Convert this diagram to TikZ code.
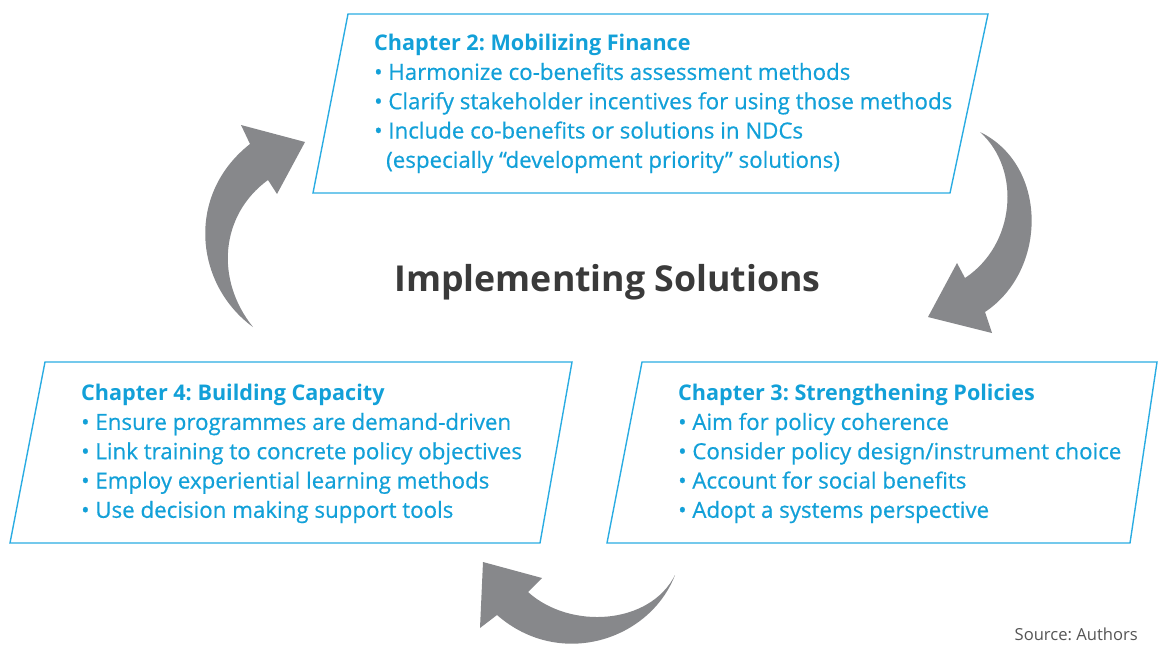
\documentclass[tikz,border=0pt]{standalone}
\usepackage{fontspec}
\setmainfont{Open Sans}
\newfontfamily\chapfont{Open Sans}[FakeBold=0.6, BoldFont={Open Sans Bold}, BoldFeatures={FakeBold=0}]
\definecolor{chapblue}{HTML}{12A0D8}
\definecolor{edgeblue}{HTML}{2AACE2}
\definecolor{arrowgray}{HTML}{87888B}
\definecolor{titlegray}{HTML}{3A3A3A}
\definecolor{notegray}{HTML}{555555}
\tikzset{
  chapbox/.style={draw=edgeblue, line width=1.4pt, line join=miter},
  chaptext/.style={anchor=north west, inner sep=0pt, align=left, text=chapblue,
    font=\chapfont\fontsize{22.3}{29.3}\selectfont},
  turnarrow/.style={fill=arrowgray, draw=none},
}
\newcommand{\chaphead}[1]{{\fontsize{21.6}{29.3}\selectfont\textbf{#1}}}
\frenchspacing
\begin{document}
\begin{tikzpicture}[x=1pt,y=-1pt]
\useasboundingbox (0,0) rectangle (1158,646);
\clip (0,0) rectangle (1158,646);

% chapter frames
\draw[chapbox] (348,14) -- (988,14) -- (950,193) -- (313,193) -- cycle;
\draw[chapbox] (45,362) -- (572,362) -- (540,543) -- (10,543) -- cycle;
\draw[chapbox] (642,362) -- (1157,362) -- (1130,543) -- (607,543) -- cycle;

% chapter contents
\node[chaptext] (finance) at (374,34) {\chaphead{Chapter 2: Mobilizing Finance}\\
  • Harmonize co-benefits assessment methods\\
  • Clarify stakeholder incentives for using those methods\\
  • Include co-benefits or solutions in NDCs\\
  \hspace*{12pt}(especially “development priority” solutions)};
\node[chaptext] (capacity) at (81,384) {\chaphead{Chapter 4: Building Capacity}\\
  • Ensure programmes are demand-driven\\
  • Link training to concrete policy objectives\\
  • Employ experiential learning methods\\
  • Use decision making support tools};
\node[chaptext] (policies) at (678,384) {\chaphead{Chapter 3: Strengthening Policies}\\
  • Aim for policy coherence\\
  • Consider policy design/instrument choice\\
  • Account for social benefits\\
  • Adopt a systems perspective};

% centre label
\node[anchor=base, inner sep=0pt, text=titlegray, font=\bfseries\fontsize{35.7}{42}\selectfont] (core) at (607.5,291) {Implementing Solutions};

% cycle arrows: 4 -> 2
\fill[turnarrow] (253,327) .. controls (195,285) and (185,195) .. (250,144)
  -- (241,125) -- (305,142) -- (277,194) -- (268,180)
  .. controls (220,215) and (215,280) .. (253,327) -- cycle;
% 2 -> 3
\fill[turnarrow] (980,132) .. controls (1048,165) and (1048,270) .. (985,312)
  -- (992,333) -- (928,317) -- (957,263) -- (965,278)
  .. controls (1015,245) and (1022,170) .. (980,132) -- cycle;
% 3 -> 4
\fill[turnarrow] (675,575) .. controls (650,640) and (560,670) .. (497,615)
  -- (480,628) -- (483,562) -- (542,578) -- (528,592)
  .. controls (570,630) and (650,625) .. (675,575) -- cycle;

\node[anchor=base east, inner sep=0pt, text=notegray, font=\fontsize{16.6}{20}\selectfont] (source) at (1138,640) {Source: Authors};
\end{tikzpicture}
\end{document}
